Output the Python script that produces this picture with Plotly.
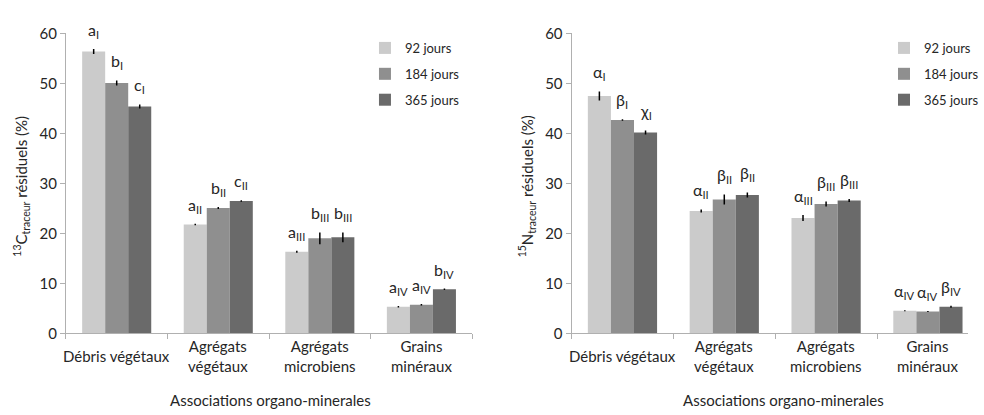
import plotly.graph_objects as go

# ---------------- data ----------------
categories = ["Débris végétaux", "Agrégats<br>végétaux", "Agrégats<br>microbiens", "Grains<br>minéraux"]
series_names = ["92 jours", "184 jours", "365 jours"]

c13_92 = [56.4, 21.8, 16.3, 5.3]
c13_184 = [50.1, 25.1, 19.0, 5.7]
c13_365 = [45.4, 26.5, 19.2, 8.8]
c13_err_92 = [0.5, 0.15, 0.2, 0.15]
c13_err_184 = [0.5, 0.2, 1.2, 0.15]
c13_err_365 = [0.4, 0.15, 1.0, 0.15]
c13_letters_92 = ["a<sub>I</sub>", "a<sub>II</sub>", "a<sub>III</sub>", "a<sub>IV</sub>"]
c13_letters_184 = ["b<sub>I</sub>", "b<sub>II</sub>", "b<sub>III</sub>", "a<sub>IV</sub>"]
c13_letters_365 = ["c<sub>I</sub>", "c<sub>II</sub>", "b<sub>III</sub>", "b<sub>IV</sub>"]

n15_92 = [47.5, 24.5, 23.1, 4.5]
n15_184 = [42.7, 26.8, 25.9, 4.35]
n15_365 = [40.2, 27.7, 26.6, 5.3]
n15_err_92 = [0.9, 0.3, 0.6, 0.1]
n15_err_184 = [0.15, 1.0, 0.5, 0.1]
n15_err_365 = [0.4, 0.5, 0.3, 0.2]
n15_letters_92 = ["α<sub>I</sub>", "α<sub>II</sub>", "α<sub>III</sub>", "α<sub>IV</sub>"]
n15_letters_184 = ["β<sub>I</sub>", "β<sub>II</sub>", "β<sub>III</sub>", "α<sub>IV</sub>"]
n15_letters_365 = ["χ<sub>I</sub>", "β<sub>II</sub>", "β<sub>III</sub>", "β<sub>IV</sub>"]

y_ticks = [0, 10, 20, 30, 40, 50, 60]
x_title = "Associations organo-minerales"
y_title_left = "<sup>13</sup>C<sub>traceur</sub> résiduels (%)"
y_title_right = "<sup>15</sup>N<sub>traceur</sub> résiduels (%)"

colors = ["#cbcbcb", "#8f8f8f", "#6a6a6a"]
FONT = "Lato"
TXT = "#262626"
AXC = "#b0b0b0"

W, H = 984, 415
BARGAP = 0.32
bw = (1 - BARGAP) / 3

fig = go.Figure()
xs = list(range(len(categories)))

panels = [
    ("x", "y", "legend", [c13_92, c13_184, c13_365], [c13_err_92, c13_err_184, c13_err_365],
     [c13_letters_92, c13_letters_184, c13_letters_365]),
    ("x2", "y2", "legend2", [n15_92, n15_184, n15_365], [n15_err_92, n15_err_184, n15_err_365],
     [n15_letters_92, n15_letters_184, n15_letters_365]),
]

annotations = []
for xa, ya, lg, vals, errs, letters in panels:
    for k in range(3):
        fig.add_trace(go.Bar(
            x=xs, y=vals[k], name=series_names[k], xaxis=xa, yaxis=ya,
            marker=dict(color=colors[k], line=dict(width=0)),
            error_y=dict(type="data", array=errs[k], visible=True, color="black", thickness=1.5, width=0),
            legend=lg, legendgroup=lg + str(k),
        ))
        for i in xs:
            annotations.append(dict(
                x=i + (k - 1) * bw, y=vals[k][i] + errs[k][i], xref=xa, yref=ya,
                text=letters[k][i], showarrow=False, yanchor="bottom", xanchor="center",
                yshift=6, font=dict(family=FONT, size=16, color=TXT),
            ))
    for i, c in enumerate(categories):
        annotations.append(dict(
            x=i, y=1 - 362 / H, xref=xa, yref="paper", text=c, showarrow=False,
            yanchor="middle", xanchor="center", align="center",
            font=dict(family=FONT, size=15, color=TXT),
        ))

annotations += [
    dict(x=275 / W, y=1 - 408 / H, xref="paper", yref="paper", text=x_title, showarrow=False,
         xanchor="center", yanchor="middle", font=dict(family=FONT, size=15, color=TXT)),
    dict(x=796 / W, y=1 - 408 / H, xref="paper", yref="paper", text=x_title, showarrow=False,
         xanchor="center", yanchor="middle", font=dict(family=FONT, size=15, color=TXT)),
    dict(x=21 / W, y=1 - 184 / H, xref="paper", yref="paper", text=y_title_left, showarrow=False,
         textangle=-90, xanchor="center", yanchor="middle", font=dict(family=FONT, size=15, color=TXT)),
    dict(x=535 / W, y=1 - 184 / H, xref="paper", yref="paper", text=y_title_right, showarrow=False,
         textangle=-90, xanchor="center", yanchor="middle", font=dict(family=FONT, size=15, color=TXT)),
]

ydom = [1 - 338 / H, 1 - 24.5 / H]
common_x = dict(
    showgrid=False, zeroline=False, showline=True, linecolor=AXC, linewidth=1,
    tickmode="array", tickvals=[-0.5, 0.5, 1.5, 2.5, 3.5], showticklabels=False,
    ticks="outside", ticklen=5, tickcolor=AXC, fixedrange=True,
)
common_y = dict(
    range=[0, 60], tickmode="array", tickvals=y_ticks, showgrid=False, zeroline=False,
    showline=True, linecolor=AXC, linewidth=1, ticks="outside", ticklen=5, tickcolor=AXC,
    tickfont=dict(family=FONT, size=15, color=TXT),
)

leg_common = dict(xanchor="left", yanchor="top", bgcolor="rgba(0,0,0,0)",
                  font=dict(family=FONT, size=13, color=TXT), tracegroupgap=6, itemwidth=30)

fig.update_layout(
    width=W, height=H, margin=dict(l=0, r=0, t=0, b=0),
    paper_bgcolor="white", plot_bgcolor="white",
    barmode="group", bargap=BARGAP, bargroupgap=0,
    showlegend=True,
    xaxis=dict(domain=[67 / W, 480 / W], range=[-0.5, 3.5], anchor="y", **common_x),
    yaxis=dict(domain=ydom, anchor="x", **common_y),
    xaxis2=dict(domain=[581 / W, 1.0], range=[-0.5, -0.5 + (W - 581) / 103.5], anchor="y2", **common_x),
    yaxis2=dict(domain=ydom, anchor="x2", **common_y),
    legend=dict(x=371 / W, y=1 - 24 / H, **leg_common),
    legend2=dict(x=899 / W, y=1 - 24 / H, **leg_common),
    annotations=annotations,
)

fig.write_html("out.html")
